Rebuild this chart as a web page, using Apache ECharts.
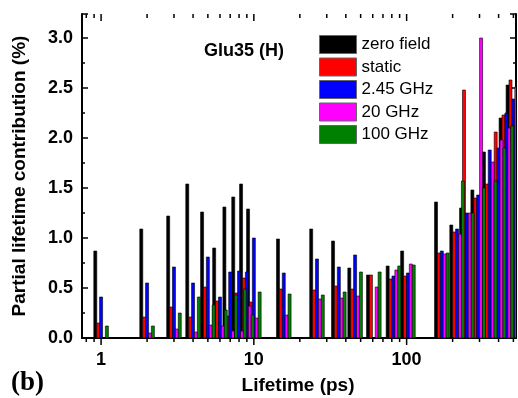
<!DOCTYPE html>
<html>
<head>
<meta charset="utf-8">
<script src="https://cdn.jsdelivr.net/npm/echarts@6/dist/echarts.min.js"></script>
<style>
  html, body { margin: 0; padding: 0; background: #fff; }
  #chart { width: 518px; height: 398px; }
</style>
</head>
<body>
<div id="chart"></div>
<script>
// lifetime groups (ps)
const lifetimes = [1, 2, 3, 4, 5, 6, 7, 8, 9, 10, 15.7, 25.9, 36, 46, 61, 82, 102, 170, 214, 248, 294, 350, 400, 450, 500]
// partial lifetime contribution (%)
const zeroField = [0.87, 1.09, 1.22, 1.54, 1.26, 0.90, 1.31, 1.41, 1.54, 1.29, 0.99, 1.09, 0.97, 0.70, 0.63, 0.72, 0.87, 1.36, 1.13, 1.30, 1.48, 1.86, 1.60, 2.20, 2.53]
const staticField = [0.15, 0.21, 0.31, 0.21, 0.51, 0.37, 0.22, 0.45, 0.60, 0.36, 0.49, 0.48, 0.52, 0.49, 0.63, 0.59, 0.62, 0.85, 1.06, 2.48, 1.40, 1.54, 2.06, 2.23, 2.58]
const ghz245 = [0.41, 0.55, 0.71, 0.55, 0.81, 0.41, 0.66, 0.67, 0.66, 1.00, 0.65, 0.79, 0.71, 0.83, 0, 0.62, 0.65, 0.87, 1.09, 1.25, 1.43, 1.88, 1.90, 2.25, 2.39]
const ghz20 = [0, 0.05, 0.09, 0.06, 0.13, 0.12, 0.07, 0.07, 0.32, 0.20, 0.23, 0.39, 0.40, 0.42, 0.51, 0.68, 0.74, 0.84, 1.04, 1.25, 3.00, 1.76, 1.98, 2.10, 2.51]
const ghz100 = [0.12, 0.12, 0.25, 0.41, 0.33, 0.28, 0.43, 0.49, 0.23, 0.46, 0.44, 0.43, 0.46, 0.66, 0.66, 0.72, 0.73, 0.85, 1.57, 1.25, 1.50, 1.57, 1.90, 2.12, 2.50]

const seriesNames = ['zero field', 'static', '2.45 GHz', '20 GHz', '100 GHz']
const seriesValues = [zeroField, staticField, ghz245, ghz20, ghz100]
const seriesColors = ['#000000', '#ff0000', '#0000ff', '#ff00ff', '#008000']

// x axis tick marks
const majorTicks = [1, 10, 100]
const minorTicks = [0.8, 0.9, 2, 3, 4, 5, 6, 7, 8, 9, 20, 30, 40, 50, 60, 70, 80, 90, 200, 300, 400, 500]

const X_MIN = 0.75
const X_MAX = 520
const Y_MAX = 3.24
const BAR_W = 3
const BAR_STEP = 2.9

const font = 'Liberation Sans, Arial, sans-serif'
const chart = echarts.init(document.getElementById('chart'))

const barSeries = seriesNames.map((name, k) => ({
  name: name,
  type: 'custom',
  xAxisIndex: 0,
  yAxisIndex: 0,
  clip: true,
  itemStyle: { color: seriesColors[k] },
  data: lifetimes.map((t, i) => [t, seriesValues[k][i]]),
  renderItem: (params, api) => {
    const v = api.value(1)
    if (!v) return null
    const top = api.coord([api.value(0), v])
    const base = api.coord([api.value(0), 0])
    const off = (k - 2) * BAR_STEP
    return {
      type: 'rect',
      shape: { x: top[0] + off - BAR_W / 2, y: top[1], width: BAR_W, height: base[1] - top[1] },
      style: { fill: seriesColors[k], stroke: '#000', lineWidth: 0.6 }
    }
  }
}))

const tickData = majorTicks.map(v => [v, 1]).concat(minorTicks.map(v => [v, 0]))

const tickSeries = {
  type: 'custom',
  xAxisIndex: 0,
  yAxisIndex: 0,
  silent: true,
  data: tickData,
  renderItem: (params, api) => {
    const v = api.value(0)
    const len = api.value(1) ? 7 : 4
    const b = api.coord([v, 0])
    const t = api.coord([v, Y_MAX])
    const st = { stroke: '#000', lineWidth: 1.5 }
    return {
      type: 'group',
      children: [
        { type: 'line', shape: { x1: b[0], y1: b[1], x2: b[0], y2: b[1] + len }, style: st },
        { type: 'line', shape: { x1: t[0], y1: t[1], x2: t[0], y2: t[1] + len }, style: st }
      ]
    }
  }
}

const yAxisBase = {
  type: 'value',
  min: 0,
  max: Y_MAX,
  interval: 0.5,
  axisLine: { show: true, lineStyle: { color: '#000', width: 2 } },
  axisTick: { show: true, inside: true, length: 6, lineStyle: { color: '#000', width: 1.5 } },
  minorTick: { show: true, splitNumber: 2, length: 3, lineStyle: { color: '#000', width: 1.5 } },
  splitLine: { show: false }
}

chart.setOption({
  animation: false,
  grid: { left: 82, right: 2, top: 14, bottom: 60 },
  legend: {
    orient: 'vertical',
    left: 319,
    top: 35,
    padding: 0,
    itemWidth: 37,
    itemHeight: 18,
    itemGap: 3.5,
    icon: 'rect',
    data: seriesNames,
    itemStyle: { borderColor: '#666', borderWidth: 1 },
    textStyle: { fontFamily: font, fontSize: 17, color: '#000', lineHeight: 18 }
  },
  xAxis: [
    {
      type: 'log',
      logBase: 10,
      min: X_MIN,
      max: X_MAX,
      position: 'bottom',
      axisLine: { show: true, lineStyle: { color: '#000', width: 2 } },
      axisTick: { show: false },
      splitLine: { show: false },
      axisLabel: {
        margin: 13,
        showMinLabel: false,
        showMaxLabel: false,
        fontFamily: font,
        fontWeight: 'bold',
        fontSize: 18,
        color: '#000',
        formatter: v => (majorTicks.indexOf(Math.round(v * 1000) / 1000) >= 0 ? String(Math.round(v)) : '')
      }
    },
    {
      type: 'log',
      logBase: 10,
      min: X_MIN,
      max: X_MAX,
      position: 'top',
      axisLine: { show: true, lineStyle: { color: '#000', width: 2 } },
      axisTick: { show: false },
      axisLabel: { show: false },
      splitLine: { show: false }
    }
  ],
  yAxis: [
    Object.assign({}, yAxisBase, {
      position: 'left',
      axisLabel: {
        margin: 9,
        fontFamily: font,
        fontWeight: 'bold',
        fontSize: 18,
        color: '#000',
        formatter: v => (Math.abs(v * 2 - Math.round(v * 2)) < 1e-6 ? v.toFixed(1) : '')
      }
    }),
    Object.assign({}, yAxisBase, {
      position: 'right',
      axisLabel: { show: false }
    })
  ],
  graphic: [
    {
      type: 'text',
      left: 204,
      top: 42,
      style: { text: 'Glu35 (H)', font: 'bold 18px ' + font, fill: '#000' }
    },
    {
      type: 'text',
      x: 20,
      y: 176,
      rotation: Math.PI / 2,
      style: {
        text: 'Partial lifetime contribution (%)',
        font: 'bold 19px ' + font,
        fill: '#000',
        align: 'center',
        verticalAlign: 'middle'
      }
    },
    {
      type: 'text',
      x: 298,
      y: 386,
      style: {
        text: 'Lifetime (ps)',
        font: 'bold 19px ' + font,
        fill: '#000',
        align: 'center',
        verticalAlign: 'middle'
      }
    },
    {
      type: 'text',
      left: 11,
      top: 370,
      style: { text: '(b)', font: 'bold 27px Liberation Serif, Times New Roman, serif', fill: '#000' }
    }
  ],
  series: barSeries.concat([tickSeries])
})
</script>
</body>
</html>
